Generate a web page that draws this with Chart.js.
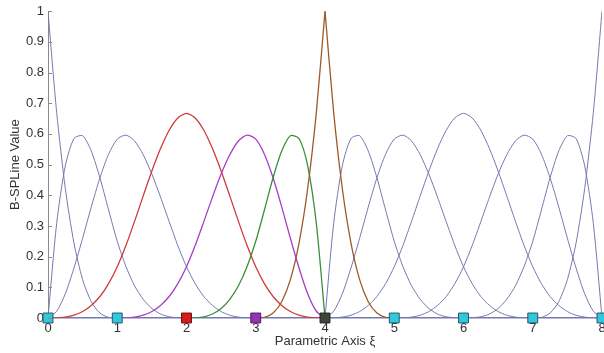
<!DOCTYPE html>
<html>
<head>
<meta charset="utf-8">
<script src="https://cdn.jsdelivr.net/npm/chart.js@4.4.0/dist/chart.umd.min.js"></script>
<style>
  html, body { margin: 0; padding: 0; background: #fff; overflow: hidden; }
  #wrap { width: 604px; height: 353px; overflow: hidden; }
</style>
</head>
<body>
<div id="wrap"><canvas id="splineChart" width="610" height="353"></canvas></div>
<script>
// parametric sampling step and the knots on the axis
const step = 0.125;
const knots = [0, 1, 2, 3, 4, 5, 6, 7, 8];
const xTicks = [0, 1, 2, 3, 4, 5, 6, 7, 8];
const yTicks = [0, 0.1, 0.2, 0.3, 0.4, 0.5, 0.6, 0.7, 0.8, 0.9, 1];

// where each piece starts on the axis (the spike at 4 is split in two)
const starts = [0, 0, 0, 0, 1, 2, 3, 4, 4, 4, 4, 5, 6, 7];

// basis function values, every 0.125
const n0 = [1, 0.67, 0.422, 0.244, 0.125, 0.053, 0.016, 0.002, 0];
const n1 = [0, 0.308, 0.496, 0.585, 0.594, 0.544, 0.457, 0.352, 0.25, 0.168, 0.105, 0.061, 0.031, 0.013, 0.004, 0.001, 0];
const n2 = [0, 0.022, 0.079, 0.163, 0.26, 0.362, 0.457, 0.534, 0.583, 0.596, 0.577, 0.532, 0.469, 0.394, 0.314, 0.236, 0.167, 0.112, 0.07, 0.041, 0.021, 0.009, 0.003, 0, 0];
const n3 = [0, 0, 0.003, 0.009, 0.021, 0.041, 0.07, 0.112, 0.167, 0.236, 0.315, 0.398, 0.479, 0.552, 0.612, 0.652, 0.667, 0.652, 0.612, 0.552, 0.479, 0.398, 0.315, 0.236, 0.167, 0.112, 0.07, 0.041, 0.021, 0.009, 0.003, 0, 0];
const n4 = [0, 0, 0.003, 0.009, 0.021, 0.041, 0.07, 0.112, 0.167, 0.236, 0.314, 0.394, 0.469, 0.532, 0.577, 0.596, 0.583, 0.534, 0.457, 0.362, 0.26, 0.163, 0.079, 0.022, 0];
const n5 = [0, 0.001, 0.004, 0.013, 0.031, 0.061, 0.105, 0.168, 0.25, 0.352, 0.457, 0.544, 0.594, 0.585, 0.496, 0.308, 0];
const n6rise = [0, 0.002, 0.016, 0.053, 0.125, 0.244, 0.422, 0.67, 1];
const n6fall = [1, 0.67, 0.422, 0.244, 0.125, 0.053, 0.016, 0.002, 0];
const n7 = [0, 0.308, 0.496, 0.585, 0.594, 0.544, 0.457, 0.352, 0.25, 0.168, 0.105, 0.061, 0.031, 0.013, 0.004, 0.001, 0];
const n8 = [0, 0.022, 0.079, 0.163, 0.26, 0.362, 0.457, 0.534, 0.583, 0.596, 0.577, 0.532, 0.469, 0.394, 0.314, 0.236, 0.167, 0.112, 0.07, 0.041, 0.021, 0.009, 0.003, 0, 0];
const n9 = [0, 0, 0.003, 0.009, 0.021, 0.041, 0.07, 0.112, 0.167, 0.236, 0.315, 0.398, 0.479, 0.552, 0.612, 0.652, 0.667, 0.652, 0.612, 0.552, 0.479, 0.398, 0.315, 0.236, 0.167, 0.112, 0.07, 0.041, 0.021, 0.009, 0.003, 0, 0];
const n10 = [0, 0, 0.003, 0.009, 0.021, 0.041, 0.07, 0.112, 0.167, 0.236, 0.314, 0.394, 0.469, 0.532, 0.577, 0.596, 0.583, 0.534, 0.457, 0.362, 0.26, 0.163, 0.079, 0.022, 0];
const n11 = [0, 0.001, 0.004, 0.013, 0.031, 0.061, 0.105, 0.168, 0.25, 0.352, 0.457, 0.544, 0.594, 0.585, 0.496, 0.308, 0];
const n12 = [0, 0.002, 0.016, 0.053, 0.125, 0.244, 0.422, 0.67, 1];

const basis = [n0, n1, n2, n3, n4, n5, n6rise, n6fall, n7, n8, n9, n10, n11, n12];

// styles
const slate = '#7579b0';
const brown = '#9c5a28';
const lineColors = [slate, slate, slate, '#d03a3a', '#a63ec4', '#3b8f3b', brown, brown, slate, slate, slate, slate, slate, slate];
const knotFill = ['#30c8dc', '#30c8dc', '#d81c1c', '#9434b4', '#3e4636', '#30c8dc', '#30c8dc', '#30c8dc', '#30c8dc'];
const knotEdge = ['#2a5664', '#2a5664', '#6a1010', '#4c1c60', '#222', '#2a5664', '#2a5664', '#2a5664', '#2a5664'];

const toPoints = (start, vals) => vals.map((v, i) => ({ x: start + i * step, y: v }));

const curveSets = basis.map((vals, i) => ({
    label: 'N' + i,
    data: toPoints(starts[i], vals),
    borderColor: lineColors[i],
    borderWidth: lineColors[i] === slate ? 1 : 1.3,
    pointRadius: 0,
    tension: 0.25,
    fill: false
}));

// coloured curves on top of the blue ones
const orderIdx = [6, 7, 5, 4, 3, 0, 1, 2, 8, 9, 10, 11, 12, 13];

const knotSet = {
    label: 'knots',
    data: knots.map(k => ({ x: k, y: 0 })),
    showLine: false,
    pointStyle: 'rect',
    pointRadius: 7,
    pointHoverRadius: 7,
    pointBackgroundColor: knotFill,
    pointBorderColor: knotEdge,
    pointBorderWidth: 1,
    clip: false
};

// small inward tick marks on the y axis, matlab style
const innerTicks = {
    id: 'innerTicks',
    afterDraw(chart) {
        const y = chart.scales.y;
        const c = chart.ctx;
        c.save();
        c.strokeStyle = '#8a8a8a';
        c.lineWidth = 1;
        yTicks.forEach(v => {
            const py = Math.round(y.getPixelForValue(v)) + 0.5;
            c.beginPath();
            c.moveTo(y.right, py);
            c.lineTo(y.right + 4, py);
            c.stroke();
        });
        c.restore();
    }
};

const font = { family: "'Liberation Sans', Arial, sans-serif", size: 13, lineHeight: 1.1 };

new Chart(document.getElementById('splineChart'), {
    type: 'line',
    data: {
        datasets: [knotSet].concat(orderIdx.map(i => curveSets[i]))
    },
    options: {
        responsive: false,
        animation: false,
        layout: { padding: { top: 4, left: 0, right: 0, bottom: 0 } },
        plugins: {
            legend: { display: false },
            tooltip: { enabled: false }
        },
        scales: {
            x: {
                type: 'linear',
                min: 0,
                max: 8,
                afterBuildTicks: s => { s.ticks = xTicks.map(v => ({ value: v })); },
                afterFit: s => { s.height = 35; },
                grid: { display: false, drawTicks: false },
                border: { color: slate, width: 1.5 },
                ticks: { color: '#333', font: font, padding: 3 },
                title: {
                    display: true,
                    text: 'Parametric Axis ξ',
                    color: '#333',
                    font: font,
                    padding: { top: 0, bottom: 4 }
                }
            },
            y: {
                min: 0,
                max: 1,
                afterBuildTicks: s => { s.ticks = yTicks.map(v => ({ value: v })); },
                afterFit: s => { s.width = 48; },
                grid: { display: false, drawTicks: false },
                border: { color: '#8a8a8a' },
                ticks: {
                    color: '#333',
                    font: font,
                    padding: 4,
                    callback: v => String(+v.toFixed(1))
                },
                title: {
                    display: true,
                    text: 'B-SPLine Value',
                    color: '#333',
                    font: font,
                    padding: { top: 8, bottom: 0 }
                }
            }
        }
    },
    plugins: [innerTicks]
});
</script>
</body>
</html>
